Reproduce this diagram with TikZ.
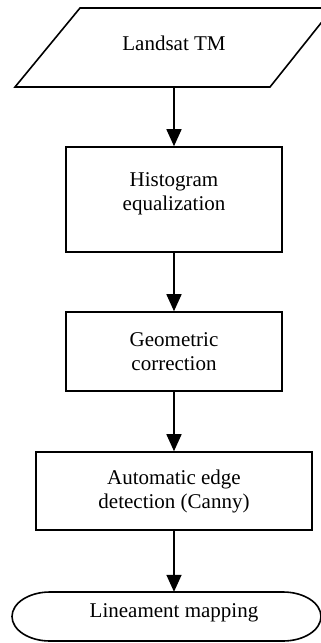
\documentclass[tikz,border=0pt]{standalone}
\usepackage{fontspec}
\setmainfont{Liberation Serif}
\usetikzlibrary{arrows.meta}
\begin{document}
\begin{tikzpicture}[x=1pt,y=-1pt,
  every node/.style={font=\fontsize{21}{24}\selectfont, align=center, inner sep=0pt},
  box/.style={draw, line width=1.6pt, minimum width=216pt},
  flow/.style={line width=1.6pt, -{Triangle[width=15pt,length=17pt]}},
  outline/.style={line width=1.6pt}]
\useasboundingbox (0,0) rectangle (321,643);
\begin{scope}
\clip (0,0) rectangle (321,643);
% input parallelogram
\draw[outline] (80,8) -- (333,8) -- (270,87) -- (15,87) -- cycle;
\node[minimum width=200pt, minimum height=79pt] (land) at (174,47.5) {};
\node (landt) at (174,43) {Landsat TM};
% boxes
\node[box, minimum height=105pt] (hist) at (174,199.5) {};
\node (histt) at (174,194) {Histogram\\equalization};
\node[box, minimum height=79pt] (geo) at (174,351.5) {Geometric\\correction};
\node[box, minimum width=276pt, minimum height=78pt] (canny) at (174,491) {Automatic edge\\detection (Canny)};
% terminal
\draw[outline] (50,592) -- (283,592) arc[start angle=-90, end angle=90, x radius=38, y radius=24.5]
  -- (50,641) arc[start angle=90, end angle=270, x radius=38, y radius=24.5] -- cycle;
\node[minimum width=200pt, minimum height=49pt] (lin) at (174,616.5) {};
\node (lint) at (174,613) {Lineament mapping};
% connectors
\draw[flow] (land.south) -- (hist.north);
\draw[flow] (hist.south) -- (geo.north);
\draw[flow] (geo.south) -- (canny.north);
\draw[flow] (canny.south) -- (lin.north);
\end{scope}
\end{tikzpicture}
\end{document}
